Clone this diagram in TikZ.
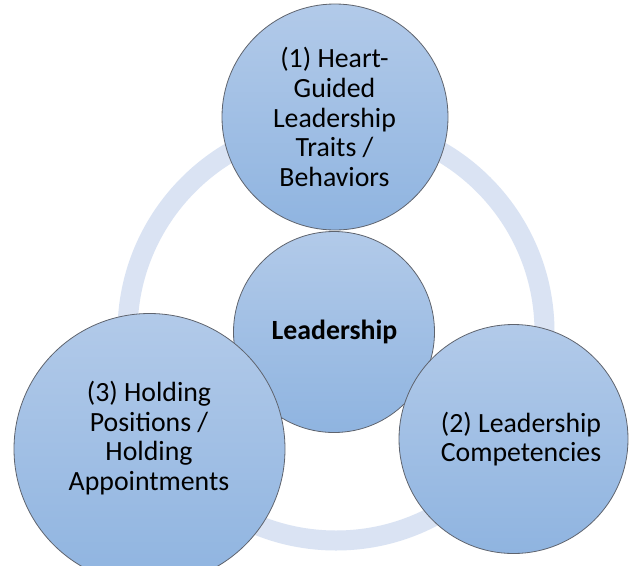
\documentclass[tikz,border=0pt]{standalone}
\usepackage{fontspec}
\setmainfont{Carlito}
\definecolor{ringc}{RGB}{218,227,243}
\definecolor{ctop}{RGB}{178,202,233}
\definecolor{cbot}{RGB}{143,180,224}
\definecolor{cedge}{RGB}{95,100,110}
\tikzset{
  bubble/.style={circle, draw=cedge, line width=0.8pt, top color=ctop, bottom color=cbot, inner sep=0pt},
  label text/.style={align=center, font=\fontsize{27.8}{29.6}\selectfont, text=black},
  ringline/.style={draw=ringc, line width=20pt}
}
\begin{document}
\begin{tikzpicture}[x=1pt,y=-1pt]
\useasboundingbox (0,0) rectangle (631,565);
\clip (0,0) rectangle (631,565);
\fill[white] (0,0) rectangle (631,565);
\coordinate (rc) at (336,332);
\draw[ringline] (rc) circle (208.5);
\node[bubble, minimum size=226pt] (top) at (335,117) {};
\node[bubble, minimum size=201pt] (mid) at (334,332) {};
\node[bubble, minimum size=271pt] (left) at (149.5,449) {};
\node[bubble, minimum size=229pt] (right) at (513.5,439) {};
\node[label text] (toptxt) at (334.5,117) {(1) Heart-\\Guided\\Leadership\\Traits /\\Behaviors};
\node[label text, font=\fontsize{27.8}{29.6}\selectfont\bfseries] (midtxt) at (334.5,332) {Leadership};
\node[label text] (lefttxt) at (149,438) {(3) Holding\\Positions /\\Holding\\Appointments};
\node[label text] (righttxt) at (521,439) {(2) Leadership\\Competencies};
\end{tikzpicture}
\end{document}
